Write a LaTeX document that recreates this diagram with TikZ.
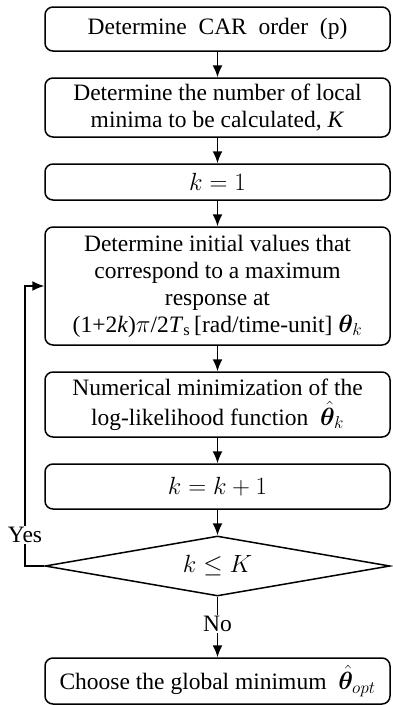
\documentclass[tikz,border=0pt]{standalone}
\usepackage{amsmath}
\usepackage{bm}
\usepackage{fontspec}
\setmainfont{Liberation Serif}
\usepackage{tikz}
\usetikzlibrary{shapes,arrows.meta}
\tikzstyle{rectblock} = [rectangle, draw, line width=1.5pt, align=center, minimum width=345pt, inner sep=2pt]
\tikzstyle{block} = [rectblock, rounded corners=8pt]
\tikzstyle{decision} = [diamond, draw, line width=1.5pt, aspect=5.75, minimum width=345pt, minimum height=60pt, inner sep=0pt]
\tikzstyle{arrow} = [draw, -{Latex[length=12pt,width=10pt]}, line width=1.5pt]
\tikzstyle{branch} = [fill=white, inner sep=1pt]

\begin{document}
\begin{tikzpicture}[x=1pt, y=-1pt, font=\fontsize{23.5}{27}\selectfont]
    \useasboundingbox (0,0) rectangle (392,705);

    % steps
    \node[block, minimum height=44pt] at (217.5, 29) (car) {Determine~~CAR~~order~~(p)};
    \node[block, minimum height=59pt] at (217.5, 107.5) (nmin) {Determine the number of local\\minima to be calculated, \textit{K}};
    \node[block, minimum height=36pt] at (217.5, 182) (init) {$k = 1$};
    \node[block, minimum height=118pt] at (217.5, 286) (start) {Determine initial values that\\correspond to a maximum\\response at\\ (1+2\textit{k})$\pi$/2\textit{T}\textsubscript{s}\,[rad/time-unit]~$\bm{\theta}_k$};
    \node[block, minimum height=65pt] at (217.5, 404.5) (optim) {Numerical minimization of the\\[3pt] log-likelihood function~~$\hat{\bm{\theta}}_k$};
    \node[block, minimum height=45pt] at (217.5, 486.5) (incr) {$k = k + 1$};
    \node[decision] at (217.5, 566) (check) {$k \leq K$};
    \node[block, minimum height=46pt] at (217.5, 681) (best) {Choose the global minimum~~$\hat{\bm{\theta}}_{opt}$};

    % flow
    \path[arrow] (car.south) to (nmin.north);
    \path[arrow] (nmin.south) to (init.north);
    \path[arrow] (init.south) to (start.north);
    \path[arrow] (start.south) to (optim.north);
    \path[arrow] (optim.south) to (incr.north);
    \path[arrow] (incr.south) to (check.north);

    % loop back
    \coordinate (back) at (25, 566);
    \path[arrow] (check.west) -- (back) |- (start.west);
    \node[branch] at (25, 535) (yes) {Yes};

    \path[arrow] (check.south) to (best.north);
    \node[branch] at (217.5, 624) (no) {No};
\end{tikzpicture}
\end{document}
